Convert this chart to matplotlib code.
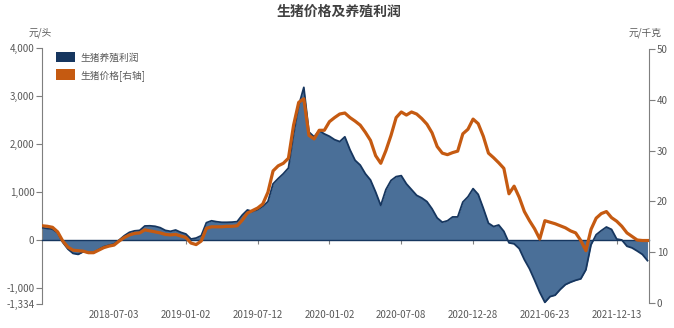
import matplotlib
matplotlib.use("Agg")
import matplotlib.pyplot as plt
from matplotlib.patches import Patch
from matplotlib.ticker import FuncFormatter, FixedLocator

plt.rcParams['font.family'] = ['Noto Sans CJK SC', 'DejaVu Sans']

title = "生猪价格及养殖利润"
left_unit = "元/头"
right_unit = "元/千克"
profit_label = "生猪养殖利润"
price_label = "生猪价格[右轴]"

tick_labels = ["2018-07-03", "2019-01-02", "2019-07-12", "2020-01-02",
               "2020-07-08", "2020-12-28", "2021-06-23", "2021-12-13"]
tick_index = [14, 28, 42, 56, 70, 84, 98, 112]

profit = [256, 240, 225, 150, -50, -190, -280, -300, -245, -264,
          -264, -200, -140, -110, -85, 0, 90, 160, 190, 200,
          292, 295, 285, 256, 200, 180, 208, 160, 125, 20,
          40, 90, 360, 400, 380, 368, 368, 372, 382, 520,
          625, 595, 630, 700, 800, 1170, 1280, 1380, 1500, 2200,
          2800, 3180, 2250, 2150, 2280, 2210, 2160, 2090, 2050, 2150,
          1880, 1660, 1560, 1380, 1250, 1000, 720, 1050, 1240, 1320,
          1340, 1170, 1050, 930, 875, 800, 650, 460, 370, 400,
          480, 480, 790, 900, 1070, 950, 660, 350, 280, 312,
          180, -60, -80, -180, -410, -600, -840, -1090, -1300, -1180,
          -1150, -1030, -930, -880, -840, -810, -620, -100, 110, 195,
          270, 220, 20, 0, -130, -165, -230, -300, -430]

price = [15.2, 15.1, 14.9, 14.0, 12.2, 11.0, 10.4, 10.3, 10.2, 9.9,
         9.9, 10.4, 10.9, 11.2, 11.4, 12.2, 12.9, 13.4, 13.7, 13.8,
         14.4, 14.2, 14.0, 13.8, 13.5, 13.4, 13.5, 13.2, 12.9, 11.8,
         11.5, 12.2, 14.7, 15.0, 15.0, 15.0, 15.1, 15.1, 15.2, 16.3,
         17.7, 18.2, 18.7, 19.5, 21.8, 26.0, 27.0, 27.5, 28.5, 35.0,
         39.5, 40.2, 33.0, 32.3, 34.0, 34.0, 35.7, 36.5, 37.2, 37.4,
         36.5, 35.8, 35.0, 33.6, 32.0, 29.0, 27.5, 30.0, 33.0, 36.5,
         37.6, 37.0, 37.6, 37.2, 36.3, 35.2, 33.5, 30.8, 29.5, 29.2,
         29.6, 29.9, 33.3, 34.2, 36.2, 35.3, 32.8, 29.5, 28.6, 27.6,
         26.5, 21.5, 23.0, 20.8, 18.0, 16.2, 14.6, 12.6, 16.2, 15.9,
         15.6, 15.2, 14.8, 14.2, 13.8, 12.3, 10.3, 14.5, 16.7, 17.6,
         18.0, 16.8, 16.1, 15.1, 13.8, 13.1, 12.4, 12.3, 12.3]

left_ticks = [-1334, -1000, 0, 1000, 2000, 3000, 4000]
right_ticks = [0, 10, 20, 30, 40, 50]

x = list(range(len(profit)))

W, H = 674, 328
fig = plt.figure(figsize=(W / 100, H / 100), dpi=100)
ax = fig.add_axes([42 / W, 1 - 304 / H, (649 - 42) / W, (304 - 48) / H])
ax2 = ax.twinx()

fill_c = "#4a6f98"
edge_c = "#16365f"
orange = "#c55a11"
grey = "#7f7f7f"
txt_c = "#595959"

ax.fill_between(x, profit, 0, color=fill_c, lw=0, zorder=2)
ax.plot(x, profit, color=edge_c, lw=1.3, zorder=3)
ax2.plot(x, price, color=orange, lw=2.3, zorder=3, solid_joinstyle='round')

ax.set_xlim(-0.05, len(profit) - 1 + 0.3)
ax.set_ylim(-1334, 4000)
ax2.set_ylim(-0.197, 50.197)

# left axis
ax.yaxis.set_major_locator(FixedLocator(left_ticks))
ax.yaxis.set_major_formatter(FuncFormatter(lambda v, p: f"{int(v):,}"))
ax.tick_params(axis='y', colors=grey, labelcolor=txt_c, labelsize=7, length=4, width=0.8, pad=1.5)
ax.spines['left'].set_color(grey)
ax.spines['left'].set_linewidth(0.8)
ax.spines['top'].set_visible(False)
ax.spines['right'].set_visible(False)
ax.spines['bottom'].set_position(('data', 0))
ax.spines['bottom'].set_color(edge_c)
ax.spines['bottom'].set_linewidth(1.0)
ax.spines['bottom'].set_zorder(4)

# x ticks on zero line, labels at bottom
ax.set_xticks(tick_index)
ax.set_xticklabels([])
ax.tick_params(axis='x', colors=grey, length=3, width=0.8, direction='out')
sec = ax.secondary_xaxis(0)
sec.set_xticks(tick_index)
sec.set_xticklabels(tick_labels)
sec.tick_params(axis='x', length=0, labelsize=7, labelcolor=txt_c, pad=4)
sec.spines['bottom'].set_visible(False)

# right axis
ax2.yaxis.set_major_locator(FixedLocator(right_ticks))
ax2.tick_params(axis='y', colors=grey, labelcolor=txt_c, labelsize=7, length=4, width=0.8, pad=1.5)
for s in ['left', 'top', 'bottom']:
    ax2.spines[s].set_visible(False)
ax2.spines['right'].set_color(grey)
ax2.spines['right'].set_linewidth(0.8)
ax2.spines['right'].set_bounds(0, 50)
ax.spines['left'].set_bounds(-1334, 4000)

# units and title
fig.text(40 / W, 1 - 33 / H, left_unit, ha='center', va='center', fontsize=7, color=txt_c)
fig.text(645 / W, 1 - 33 / H, right_unit, ha='center', va='center', fontsize=7, color=txt_c)
fig.text(339 / W, 1 - 12 / H, title, ha='center', va='center', fontsize=10,
         fontweight='bold', color="#404040")

handles = [Patch(facecolor=edge_c, edgecolor='none'), Patch(facecolor=orange, edgecolor='none')]
leg = ax.legend(handles, [profit_label, price_label], loc='upper left',
                bbox_to_anchor=(10 / (649 - 42), 1.0), frameon=False, fontsize=7,
                handlelength=2.0, handleheight=1.3, handletextpad=0.5, labelspacing=0.7,
                borderaxespad=0.0)
for t in leg.get_texts():
    t.set_color(txt_c)

fig.savefig("out.png", dpi=100)
